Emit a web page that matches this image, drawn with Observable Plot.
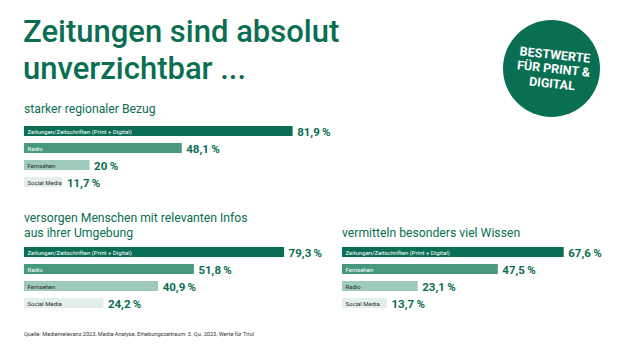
<!DOCTYPE html>
<html>
<head>
<meta charset="utf-8">
<script src="https://cdn.jsdelivr.net/npm/d3@7"></script>
<script src="https://cdn.jsdelivr.net/npm/@observablehq/plot@0.6"></script>
<style>
  html, body { margin: 0; padding: 0; background: #ffffff; }
  body { width: 620px; height: 349px; position: relative; overflow: hidden; font-family: Roboto, "Noto Sans", sans-serif; }
  .abs { position: absolute; }
  #title { left: 23px; top: 13px; font-size: 31px; line-height: 37px; font-weight: 500; color: #0a6e52; white-space: nowrap; }
  .sub { font-size: 12.2px; line-height: 15px; color: #0a6e52; white-space: nowrap; }
  #badge { left: 503px; top: 20px; width: 97px; height: 97px; border-radius: 50%; background: #0a6e52; }
  #badgeText { left: 505px; top: 21px; width: 97px; height: 97px; display: flex; align-items: center; justify-content: center; text-align: center; color: #fff; font-weight: 700; font-size: 12.5px; line-height: 14.5px; transform: rotate(6deg); }
  #source { left: 24px; top: 331px; font-size: 5.6px; color: #333; white-space: nowrap; }
</style>
</head>
<body>
<div id="title" class="abs">Zeitungen sind absolut<br>unverzichtbar ...</div>
<div id="badge" class="abs"></div>
<div id="badgeText" class="abs"><div>BESTWERTE<br>FÜR PRINT &amp;<br>DIGITAL</div></div>
<div class="abs sub" style="left:24px; top:102px;">starker regionaler Bezug</div>
<div class="abs sub" style="left:24px; top:211px;">versorgen Menschen mit relevanten Infos<br>aus ihrer Umgebung</div>
<div class="abs sub" style="left:342px; top:226px;">vermitteln besonders viel Wissen</div>
<div id="p1" class="abs" style="left:24px; top:126px;"></div>
<div id="p2" class="abs" style="left:24px; top:247px;"></div>
<div id="p3" class="abs" style="left:342px; top:247px;"></div>
<div id="source" class="abs">Quelle: Medienrelevanz 2023, Media-Analyse, Erhebungszeitraum: 3. Qu. 2023, Werte für Tirol</div>
<script>
// Data
const catsRegional = ["Zeitungen/Zeitschriften (Print + Digital)", "Radio", "Fernsehen", "Social Media"];
const valsRegional = [81.9, 48.1, 20, 11.7];

const catsInfos = ["Zeitungen/Zeitschriften (Print + Digital)", "Radio", "Fernsehen", "Social Media"];
const valsInfos = [79.3, 51.8, 40.9, 24.2];

const catsWissen = ["Zeitungen/Zeitschriften (Print + Digital)", "Fernsehen", "Radio", "Social Media"];
const valsWissen = [67.6, 47.5, 23.1, 13.7];

// Styles by rank
const rankColors = ["#0a6e55", "#46987f", "#9dcabb", "#e3efeb"];
const rankTextColors = ["#ffffff", "#ffffff", "#2b2b2b", "#2b2b2b"];
const valueColor = "#0a6e52";

const fmt = v => v.toLocaleString("de-DE", {maximumFractionDigits: 1}) + "\u2009%";

function panel(cats, vals, width) {
  const data = cats.map((c, i) => ({cat: c, value: vals[i], rank: i}));
  return Plot.plot({
    width: width,
    height: 66,
    marginTop: 0, marginBottom: 0, marginLeft: 0, marginRight: 0,
    style: {overflow: "visible", fontFamily: "Roboto, 'Noto Sans', sans-serif", background: "transparent"},
    x: {domain: [0, 100], range: [0, 328], axis: null},
    y: {domain: cats, range: [0, 64], paddingInner: 0.42, paddingOuter: 0, align: 0, axis: null},
    color: {type: "identity"},
    marks: [
      Plot.barX(data, {x: "value", y: "cat", fill: d => rankColors[d.rank]}),
      Plot.text(data, {x: 0, y: "cat", text: "cat", textAnchor: "start", dx: 3, dy: 0.3, fontSize: 6, fill: d => rankTextColors[d.rank]}),
      Plot.text(data, {x: "value", y: "cat", text: d => fmt(d.value), textAnchor: "start", dx: 4, dy: 0.5, fontSize: 11.5, fontWeight: 700, fill: valueColor})
    ]
  });
}

document.getElementById("p1").append(panel(catsRegional, valsRegional, 330));
document.getElementById("p2").append(panel(catsInfos, valsInfos, 330));
document.getElementById("p3").append(panel(catsWissen, valsWissen, 270));
</script>
</body>
</html>
